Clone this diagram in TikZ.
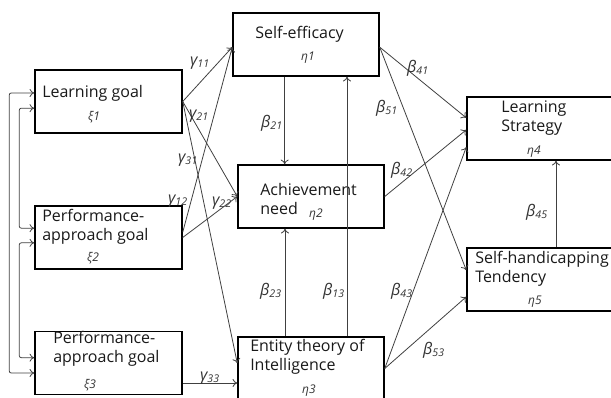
\documentclass[tikz,border=0pt]{standalone}
\usepackage{fontspec}
\setmainfont{Open Sans}
\usetikzlibrary{arrows.meta}

\newcommand{\pathc}[2]{#1\textsubscript{#2}}

\begin{document}
\begin{tikzpicture}[
    x=0.75pt, y=-0.75pt,
    font=\fontsize{12}{14.25}\selectfont,
    block/.style={
        rectangle,
        draw,
        line width=1.1pt,
        inner sep=0pt,
        minimum height=47.25pt
    },
    xibox/.style={block, minimum width=110.25pt},
    etabox/.style={block, minimum width=109.5pt},
    boxtext/.style={anchor=base west, align=left, inner sep=0pt, text=black!90},
    symb/.style={font=\fontsize{9}{10}\selectfont\itshape, inner sep=0pt, text=black!80},
    coef/.style={font=\fontsize{12}{14}\selectfont\itshape, inner sep=0pt, text=black!80},
    line/.style={
        draw,
        -{To[length=3.5pt,width=6pt]},
        line width=0.6pt,
        color=black!75
    },
    corr/.style={
        line,
        {To[length=3.5pt,width=6pt]}-{To[length=3.5pt,width=6pt]}
    }
]
    \useasboundingbox (0,0) rectangle (611,397);
    \clip (0,0) rectangle (611,397);

    % --- Boxes ---

    % Left column
    \node [xibox] (learn) at (108.5,101.5) {};
    \node [xibox] (perfa) at (108.5,237.5) {};
    \node [xibox] (perfb) at (108.5,363) {};

    % Middle column
    \node [etabox] (effic) at (306,44.5) {};
    \node [etabox] (achiev) at (311,196.5) {};
    \node [etabox] (entity) at (311,368.5) {};

    % Right column (cut by the right edge)
    \node [etabox] (strat) at (540,128.5) {};
    \node [etabox] (handi) at (540,279.5) {};

    % --- Box texts ---
    % (base of a two-line text = baseline of its last line)
    \node [boxtext] (learntxt) at (42,97) {Learning goal};
    \node [symb] (learnsym) at (94,117) {ξ1};
    \node [boxtext] (perfatxt) at (42,240) {Performance-\\approach goal};
    \node [symb] (perfasym) at (93,258) {ξ2};
    \node [boxtext] (perfbtxt) at (53,362) {Performance-\\approach goal};
    \node [symb] (perfbsym) at (90,385) {ξ3};

    \node [boxtext] (effictxt) at (255,38) {Self-efficacy};
    \node [symb] (efficsym) at (308,58) {η1};
    \node [boxtext] (achievtxt) at (260,214) {Achievement\\need};
    \node [symb] (achievsym) at (316,215) {η2};
    \node [boxtext] (entitytxt) at (250,370) {Entity theory of\\Intelligence};
    \node [symb] (entitysym) at (309,391) {η3};

    \node [boxtext] (strattxt) at (501,131) {Learning\\Strategy};
    \node [symb] (stratsym) at (534,152) {η4};
    \node [boxtext] (handitxt) at (475,282) {Self-handicapping\\Tendency};
    \node [symb] (handisym) at (535,302) {η5};

    % --- Connections ---

    % Correlations among the goals (left)
    \path [corr, rounded corners=1.5pt] ([yshift=6.4pt]learn.west) -- ++(-25,0) |- ([yshift=-7.5pt]perfb.west);
    \path [corr, rounded corners=1.5pt] ([yshift=-5pt]learn.west) -- ++(-15,0) |- ([yshift=7pt]perfa.west);
    \path [corr, rounded corners=1.5pt] ([yshift=-4pt]perfa.west) -- ++(-15,0) |- ([yshift=4pt]perfb.west);

    % Gamma paths
    \path [line] (learn.east) -- ([yshift=-2pt]effic.west);
    \path [line] (learn.east) -- (achiev.west);
    \path [line] (learn.east) -- ([yshift=4pt]entity.west);
    \path [line] ([yshift=4pt]perfa.east) -- ([yshift=-2pt]effic.west);
    \path [line] (perfa.east) -- (achiev.west);
    \path [line] ([yshift=-15pt]perfb.east) -- ([yshift=-15pt]perfb.east -| entity.west);

    % Beta paths (middle column)
    \path [line] ([xshift=-16pt]effic.south) -- ([xshift=-16pt]effic.south |- achiev.north);
    \path [line] ([xshift=-19.5pt]entity.north) -- ([xshift=-19.5pt]entity.north |- achiev.south);
    \path [line] ([xshift=27pt]entity.north) -- ([xshift=27pt]entity.north |- effic.south);

    % Beta paths (to the right column)
    \path [line] ([yshift=-2pt]effic.east) -- ([yshift=8pt]strat.west);
    \path [line] ([yshift=-2pt]effic.east) -- ([yshift=7pt]handi.west);
    \path [line] (achiev.east) -- ([yshift=-1pt]strat.west);
    \path [line] (entity.east) -- ([yshift=-14pt]strat.west);
    \path [line] (entity.east) -- ([yshift=-13pt]handi.west);
    \path [line] ([xshift=12pt]handi.north) -- ([xshift=12pt]handi.north |- strat.south);

    % --- Coefficients ---
    \node [coef] (g11) at (200,63) {\pathc{γ}{11}};
    \node [coef] (g21) at (199,116) {\pathc{γ}{21}};
    \node [coef] (g31) at (188,160) {\pathc{γ}{31}};
    \node [coef] (g12) at (178,201) {\pathc{γ}{12}};
    \node [coef] (g22) at (222,203) {\pathc{γ}{22}};
    \node [coef] (g33) at (210,378) {\pathc{γ}{33}};

    \node [coef] (b21) at (272,123) {\pathc{β}{21}};
    \node [coef] (b23) at (271,291) {\pathc{β}{23}};
    \node [coef] (b13) at (334,291) {\pathc{β}{13}};
    \node [coef] (b41) at (418,68) {\pathc{β}{41}};
    \node [coef] (b51) at (387,108) {\pathc{β}{51}};
    \node [coef] (b42) at (402,170) {\pathc{β}{42}};
    \node [coef] (b43) at (402,291) {\pathc{β}{43}};
    \node [coef] (b53) at (434,350) {\pathc{β}{53}};
    \node [coef] (b45) at (537,212) {\pathc{β}{45}};

\end{tikzpicture}
\end{document}
